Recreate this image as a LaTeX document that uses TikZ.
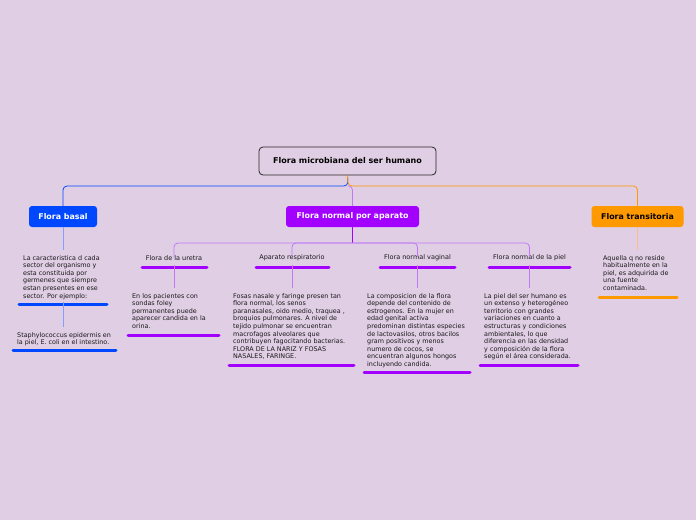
\documentclass[tikz,border=0pt]{standalone}
\usepackage{fontspec}
\setmainfont{DejaVu Sans}
\usepackage{tikz}
\usetikzlibrary{calc}
\definecolor{fondo}{RGB}{224,206,228}
\definecolor{azul}{RGB}{0,72,255}
\definecolor{azulclaro}{RGB}{130,160,255}
\definecolor{morado}{RGB}{162,0,255}
\definecolor{moradoclaro}{RGB}{192,120,245}
\definecolor{naranja}{RGB}{255,153,0}
\definecolor{naranjaclaro}{RGB}{250,190,140}

\begin{document}
\begin{tikzpicture}[x=1pt, y=-1pt,
    raiz/.style={rectangle, rounded corners=4pt, draw=black!85, line width=0.8pt, fill=fondo, minimum width=177pt, minimum height=28pt, font=\fontsize{8}{9}\selectfont\bfseries},
    rama/.style={rectangle, rounded corners=3pt, minimum height=21pt, inner sep=0pt, font=\fontsize{7.9}{9}\selectfont\bfseries},
    tema/.style={inner sep=0pt, font=\fontsize{6.5}{7.6}\selectfont, text=black!90},
    texto/.style={anchor=north west, inner sep=0pt, align=left, font=\fontsize{6.4}{7.6}\selectfont, text=black!90},
    raya/.style={line width=3pt, line cap=round},
    tallo/.style={line width=0.8pt, shorten >=5pt}]

    \fill[fondo] (0,0) rectangle (696,520);

    % nodos principales
    \node[raiz] (raiz) at (347.5,161) {Flora microbiana del ser humano};
    \node[rama, fill=azul, text=white, minimum width=68pt] (basal) at (63,216.5) {Flora basal};
    \node[rama, fill=morado, text=white, minimum width=133pt] (aparato) at (352.5,216.5) {Flora normal por aparato};
    \node[rama, fill=naranja, text=black, minimum width=92pt] (transit) at (637.5,216.5) {Flora transitoria};

    \coordinate (bus) at (348,186);
    \draw[azul, line width=0.8pt, rounded corners=4pt] (raiz.south) -- (bus) -| (basal.north);
    \draw[naranja, line width=0.8pt, rounded corners=4pt] (raiz.south) -- (bus) -| (transit.north);
    \draw[moradoclaro, line width=0.8pt, rounded corners=4pt] (bus) -| (aparato.north);

    % subtemas
    \node[tema] (uretra) at (174,258) {Flora de la uretra};
    \node[tema] (resp) at (292,258) {Aparato respiratorio};
    \node[tema] (vaginal) at (417.5,258) {Flora normal vaginal};
    \node[tema] (piel) at (529.5,258) {Flora normal de la piel};

    \coordinate (subbus) at (352.5,243);
    \draw[morado, line width=0.8pt] (aparato.south) -- (subbus);
    \foreach \t in {uretra,resp,vaginal,piel}
        \draw[moradoclaro, line width=0.8pt, rounded corners=4pt] (subbus) -| ([yshift=-2pt]\t.north);

    % textos
    \node[texto] (basaltxt) at (23,255) {La caracteristica d cada\\sector del organismo y\\esta constituida por\\germenes que siempre\\estan presentes en ese\\sector. Por ejemplo:};
    \node[texto] (staph) at (17,332) {Staphylococcus epidermis en\\la piel, E. coli en el intestino.};
    \node[texto] (uretratxt) at (132,293) {En los pacientes con\\sondas foley\\permanentes puede\\aparecer candida en la\\orina.};
    \node[texto] (resptxt) at (233,293) {Fosas nasale y faringe presen tan\\flora normal, los senos\\paranasales, oido medio, traquea ,\\broquios pulmonares. A nivel de\\tejido pulmonar se encuentran\\macrofagos alveolares que\\contribuyen fagocitando bacterias.\\FLORA DE LA NARIZ Y FOSAS\\NASALES, FARINGE.};
    \node[texto] (vaginaltxt) at (367,293) {La composicion de la flora\\depende del contenido de\\estrogenos. En la mujer en\\edad genital activa\\predominan distintas especies\\de lactovasilos, otros bacilos\\gram positivos y menos\\numero de cocos, se\\encuentran algunos hongos\\incluyendo candida.};
    \node[texto] (pieltxt) at (484,293) {La piel del ser humano es\\un extenso y heterogéneo\\territorio con grandes\\variaciones en cuanto a\\estructuras y condiciones\\ambientales, lo que\\diferencia en las densidad\\y composición de la flora\\según el área considerada.};
    \node[texto] (transittxt) at (603,255) {Aquella q no reside\\habitualmente en la\\piel, es adquirida de\\una fuente\\contaminada.};

    % rayas
    \coordinate (basalR) at (63,304.5);
    \coordinate (staphR) at (64.5,350);
    \coordinate (uretraR) at (174.5,267);
    \coordinate (respR) at (292.5,267);
    \coordinate (vaginalR) at (417.5,267);
    \coordinate (pielR) at (529.5,267);
    \coordinate (transitR) at (638,297);
    \draw[raya, azul] (19,304.5) -- (107,304.5);
    \draw[raya, azul] (13,350) -- (116,350);
    \draw[raya, morado] (142,267) -- (207,267);
    \draw[raya, morado] (256,267) -- (329,267);
    \draw[raya, morado] (380,267) -- (455,267);
    \draw[raya, morado] (489,267) -- (570,267);
    \draw[raya, morado] (128,335) -- (219,335);
    \draw[raya, morado] (229,365.5) -- (354,365.5);
    \draw[raya, morado] (364,372.5) -- (470,372.5);
    \draw[raya, morado] (480,365.5) -- (578,365.5);
    \draw[raya, naranja] (599,297) -- (677,297);

    % tallos
    \draw[tallo, azulclaro] (basal.south) -- (basal.south |- basaltxt.north);
    \draw[tallo, azulclaro] ([yshift=3pt]basalR) -- (basalR |- staph.north);
    \draw[tallo, naranjaclaro] (transit.south) -- (transit.south |- transittxt.north);
    \draw[tallo, moradoclaro] ([yshift=2pt]uretraR) -- (uretraR |- uretratxt.north);
    \draw[tallo, moradoclaro] ([yshift=2pt]respR) -- (respR |- resptxt.north);
    \draw[tallo, moradoclaro] ([yshift=2pt]vaginalR) -- (vaginalR |- vaginaltxt.north);
    \draw[tallo, moradoclaro] ([yshift=2pt]pielR) -- (pielR |- pieltxt.north);

\end{tikzpicture}
\end{document}
